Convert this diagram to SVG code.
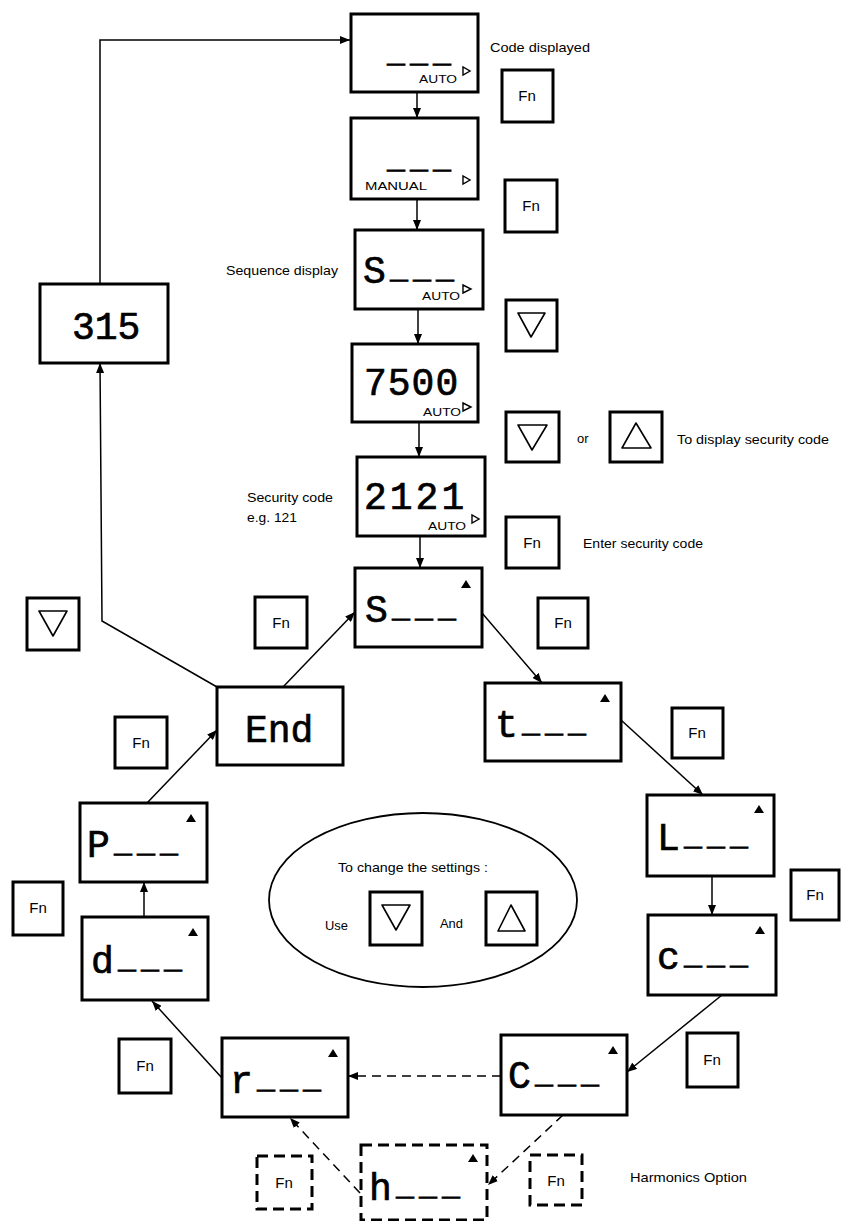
<svg xmlns="http://www.w3.org/2000/svg" width="841" height="1221" viewBox="0 0 841 1221">
<defs>
<marker id="ah" viewBox="0 0 10 8" refX="10" refY="4" markerWidth="10" markerHeight="8" markerUnits="userSpaceOnUse" orient="auto"><path d="M0,0 L10,4 L0,8 z" fill="#000"/></marker>
<style>
.box{fill:#fff;stroke:#000;stroke-width:3}
.dsh{stroke-dasharray:11 6}
.seg{font-family:"Liberation Mono","DejaVu Sans Mono",monospace;font-size:38px;fill:#000;stroke:#000;stroke-width:0.7}
.us{font-size:30px;letter-spacing:5px}
.lbl{font-family:"Liberation Sans",Arial,sans-serif;font-size:13px;fill:#000}
.sm{font-family:"Liberation Sans",Arial,sans-serif;font-size:11px;fill:#000}
.fn{font-family:"Liberation Sans",Arial,sans-serif;font-size:15px;fill:#000;text-anchor:middle}
.tri{fill:none;stroke:#000;stroke-width:1.6;stroke-linejoin:round}
.ind{fill:#000}
.play{fill:#fff;stroke:#000;stroke-width:1.4}
.conn{fill:none;stroke:#000;stroke-width:1.5;marker-end:url(#ah)}
.cd{stroke-dasharray:9 6}
</style>
</defs>

<g id="connectors">
<path class="conn" d="M100,284 L100,40 L350,40"/>
<path class="conn" d="M417,92 L417,118"/>
<path class="conn" d="M417,199 L417,230"/>
<path class="conn" d="M418,309 L418,344"/>
<path class="conn" d="M419,422 L419,457"/>
<path class="conn" d="M420,536 L420,568"/>
<path class="conn" d="M482,613 L542,683"/>
<path class="conn" d="M621,720 L703,795"/>
<path class="conn" d="M712,876 L712,915"/>
<path class="conn" d="M722,995 L627,1072"/>
<path class="conn cd" d="M501,1076 L348,1076"/>
<path class="conn cd" d="M563,1115 L488,1185"/>
<path class="conn cd" d="M360,1193 L290,1118"/>
<path class="conn" d="M222,1078 L152,1001"/>
<path class="conn" d="M144,917 L144,882"/>
<path class="conn" d="M147,803 L217,730"/>
<path class="conn" d="M283,687 L355,612"/>
<path class="conn" d="M217,687 L102,621 L100,363"/>
</g>

<g id="node-auto">
<rect class="box" x="351" y="14" width="127" height="78"/>
<text class="seg" x="387" y="62"><tspan class="us">___</tspan></text>
<text class="sm" x="419" y="83" textLength="38" lengthAdjust="spacingAndGlyphs">AUTO</text>
<polygon class="play" points="463,67 463,75 470,71"/>
</g>
<g id="node-manual">
<rect class="box" x="351" y="118" width="127" height="81"/>
<text class="seg" x="387" y="168"><tspan class="us">___</tspan></text>
<text class="sm" x="365" y="190" textLength="62" lengthAdjust="spacingAndGlyphs">MANUAL</text>
<polygon class="play" points="463,176 463,184 470,180"/>
</g>
<g id="node-seq">
<rect class="box" x="355" y="230" width="128" height="79"/>
<text class="seg" x="363" y="283">S<tspan class="us" x="390" y="278">___</tspan></text>
<text class="sm" x="422" y="300" textLength="38" lengthAdjust="spacingAndGlyphs">AUTO</text>
<polygon class="play" points="463,285 463,293 471,289"/>
</g>
<g id="node-7500">
<rect class="box" x="352" y="344" width="126" height="78"/>
<text class="seg" x="364" y="395" letter-spacing="1">7500</text>
<text class="sm" x="423" y="416" textLength="38" lengthAdjust="spacingAndGlyphs">AUTO</text>
<polygon class="play" points="463,403 463,411 471,407"/>
</g>
<g id="node-code">
<rect class="box" x="357" y="457" width="128" height="79"/>
<text class="seg" x="364" y="509" letter-spacing="3">2121</text>
<text class="sm" x="428" y="530" textLength="38" lengthAdjust="spacingAndGlyphs">AUTO</text>
<polygon class="play" points="472,515 472,523 479,519"/>
</g>
<g id="node-S">
<rect class="box" x="355" y="568" width="127" height="79"/>
<text class="seg" x="365" y="622">S<tspan class="us" x="392" y="617">___</tspan></text>
<polygon class="ind" points="466,580 461,588 471,588"/>
</g>
<g id="node-t">
<rect class="box" x="485" y="683" width="136" height="78"/>
<text class="seg" x="495" y="737">t<tspan class="us" x="522" y="732">___</tspan></text>
<polygon class="ind" points="605,694 600,702 610,702"/>
</g>
<g id="node-L">
<rect class="box" x="647" y="795" width="127" height="81"/>
<text class="seg" x="657" y="850">L<tspan class="us" x="684" y="845">___</tspan></text>
<polygon class="ind" points="759,805 754,813 764,813"/>
</g>
<g id="node-c">
<rect class="box" x="648" y="915" width="128" height="80"/>
<text class="seg" x="657" y="969">c<tspan class="us" x="684" y="964">___</tspan></text>
<polygon class="ind" points="760,926 755,934 765,934"/>
</g>
<g id="node-C">
<rect class="box" x="501" y="1035" width="126" height="80"/>
<text class="seg" x="508" y="1088">C<tspan class="us" x="535" y="1083">___</tspan></text>
<polygon class="ind" points="613,1046 608,1054 618,1054"/>
</g>
<g id="node-r">
<rect class="box" x="222" y="1038" width="126" height="79"/>
<text class="seg" x="230" y="1093">r<tspan class="us" x="257" y="1088">___</tspan></text>
<polygon class="ind" points="333,1049 328,1057 338,1057"/>
</g>
<g id="node-h">
<rect class="box dsh" x="361" y="1145" width="126" height="75"/>
<text class="seg" x="369" y="1200">h<tspan class="us" x="396" y="1195">___</tspan></text>
<polygon class="ind" points="473,1154 468,1162 478,1162"/>
</g>
<g id="node-d">
<rect class="box" x="82" y="917" width="126" height="83"/>
<text class="seg" x="91" y="973">d<tspan class="us" x="118" y="968">___</tspan></text>
<polygon class="ind" points="193,928 188,936 198,936"/>
</g>
<g id="node-P">
<rect class="box" x="80" y="803" width="127" height="79"/>
<text class="seg" x="87" y="857">P<tspan class="us" x="114" y="852">___</tspan></text>
<polygon class="ind" points="191,814 186,822 196,822"/>
</g>
<g id="node-End">
<rect class="box" x="217" y="687" width="126" height="78"/>
<text class="seg" x="245" y="742">End</text>
</g>
<g id="node-315">
<rect class="box" x="40" y="284" width="128" height="79"/>
<text class="seg" x="72" y="339" font-size="36">315</text>
</g>

<g id="buttons">
<g id="btn-fn1"><rect class="box" x="502" y="70" width="51" height="52"/><text class="fn" x="527" y="101">Fn</text></g>
<g id="btn-fn2"><rect class="box" x="505" y="180" width="52" height="52"/><text class="fn" x="531" y="211">Fn</text></g>
<g id="btn-dn1"><rect class="box" x="506" y="300" width="51" height="51"/><polygon class="tri" points="518,313 545,313 531,337"/></g>
<g id="btn-dn2"><rect class="box" x="506" y="412" width="53" height="50"/><polygon class="tri" points="518,425 547,425 532,450"/></g>
<g id="btn-up1"><rect class="box" x="610" y="412" width="52" height="50"/><polygon class="tri" points="622,448 651,448 636,423"/></g>
<g id="btn-fn-enter"><rect class="box" x="506" y="517" width="53" height="51"/><text class="fn" x="532" y="548">Fn</text></g>
<g id="btn-fn-s"><rect class="box" x="538" y="598" width="50" height="50"/><text class="fn" x="563" y="628">Fn</text></g>
<g id="btn-fn-t"><rect class="box" x="672" y="708" width="51" height="50"/><text class="fn" x="697" y="738">Fn</text></g>
<g id="btn-fn-L"><rect class="box" x="791" y="870" width="48" height="50"/><text class="fn" x="815" y="900">Fn</text></g>
<g id="btn-fn-C"><rect class="box" x="687" y="1033" width="51" height="54"/><text class="fn" x="712" y="1065">Fn</text></g>
<g id="btn-fn-End-l"><rect class="box" x="115" y="717" width="52" height="51"/><text class="fn" x="141" y="748">Fn</text></g>
<g id="btn-fn-End-r"><rect class="box" x="255" y="597" width="52" height="51"/><text class="fn" x="281" y="628">Fn</text></g>
<g id="btn-dn-left"><rect class="box" x="27" y="598" width="52" height="52"/><polygon class="tri" points="39,611 67,611 53,636"/></g>
<g id="btn-fn-P"><rect class="box" x="13" y="882" width="50" height="53"/><text class="fn" x="38" y="913">Fn</text></g>
<g id="btn-fn-r"><rect class="box" x="119" y="1039" width="52" height="54"/><text class="fn" x="145" y="1071">Fn</text></g>
<g id="btn-fn-dl"><rect class="box dsh" x="257" y="1156" width="55" height="53"/><text class="fn" x="284" y="1188">Fn</text></g>
<g id="btn-fn-dr"><rect class="box dsh" x="530" y="1155" width="52" height="50"/><text class="fn" x="556" y="1186">Fn</text></g>
</g>

<g id="settings-note">
<ellipse cx="423" cy="900" rx="154" ry="87" fill="none" stroke="#000" stroke-width="1.8"/>
<text class="lbl" x="338" y="872" textLength="150" lengthAdjust="spacingAndGlyphs">To change the settings :</text>
<text class="lbl" x="325" y="930" textLength="23" lengthAdjust="spacingAndGlyphs">Use</text>
<rect class="box" x="370" y="892" width="52" height="53"/><polygon class="tri" points="382,905 410,905 396,930"/>
<text class="lbl" x="440" y="928" textLength="23" lengthAdjust="spacingAndGlyphs">And</text>
<rect class="box" x="486" y="892" width="51" height="53"/><polygon class="tri" points="498,931 525,931 511,905"/>
</g>

<g id="labels">
<text class="lbl" x="490" y="52" textLength="100" lengthAdjust="spacingAndGlyphs">Code displayed</text>
<text class="lbl" x="226" y="275" textLength="112" lengthAdjust="spacingAndGlyphs">Sequence display</text>
<text class="lbl" x="247" y="502" textLength="86" lengthAdjust="spacingAndGlyphs">Security code</text>
<text class="lbl" x="247" y="522" textLength="50" lengthAdjust="spacingAndGlyphs">e.g. 121</text>
<text class="lbl" x="577" y="443">or</text>
<text class="lbl" x="677" y="444" textLength="152" lengthAdjust="spacingAndGlyphs">To display security code</text>
<text class="lbl" x="583" y="548" textLength="120" lengthAdjust="spacingAndGlyphs">Enter security code</text>
<text class="lbl" x="630" y="1182" textLength="117" lengthAdjust="spacingAndGlyphs">Harmonics Option</text>
</g>
</svg>
